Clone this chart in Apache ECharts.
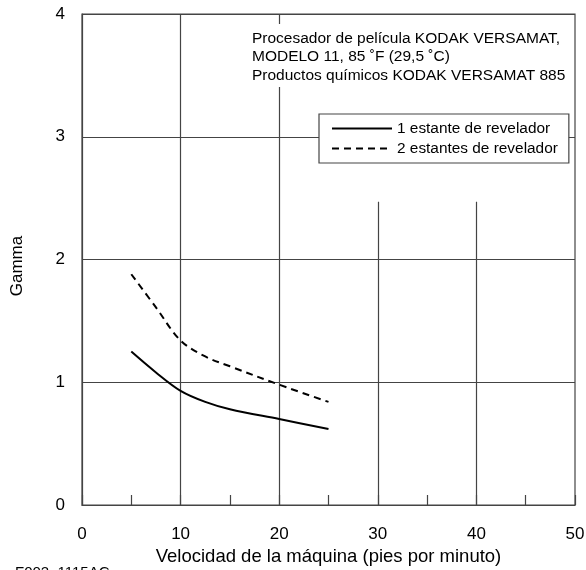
<!DOCTYPE html>
<html>
<head>
<meta charset="utf-8">
<script src="https://cdn.jsdelivr.net/npm/echarts@6/dist/echarts.min.js"></script>
<style>
html,body{margin:0;padding:0;background:#fff;}
#c{width:586px;height:570px;}
</style>
</head>
<body>
<div id="c"></div>
<script>
// Data
const speed1 = [5, 7.5, 10, 12.5, 15, 20, 25];
const gamma1 = [1.25, 1.08, 0.93, 0.84, 0.78, 0.70, 0.62];
const speed2 = [5, 7.5, 10, 12.5, 15, 20, 25];
const gamma2 = [1.88, 1.61, 1.34, 1.21, 1.13, 0.98, 0.84];
const seriesNames = ['1 estante de revelador', '2 estantes de revelador'];
const xTicks = [0, 10, 20, 30, 40, 50];
const yTicks = [0, 1, 2, 3, 4];
// vertical grid lines: x position and top value
const vGridX = [10, 20, 30, 40];
const vGridTop = [4, 4, 2.47, 2.47];
const noteLines = [
  'Procesador de película KODAK VERSAMAT,',
  'MODELO 11, 85 ˚F (29,5 ˚C)',
  'Productos químicos KODAK VERSAMAT 885'
];
const yName = 'Gamma';
const xName = 'Velocidad de la máquina (pies por minuto)';
const figId = 'F002_1115AC';

const FONT = '"Liberation Sans", Arial, Helvetica, sans-serif';
const chart = echarts.init(document.getElementById('c'), null, {renderer: 'canvas'});

const markData = vGridX.map((x, i) => [{coord: [x, 0]}, {coord: [x, vGridTop[i]]}]);

chart.setOption({
  animation: false,
  backgroundColor: '#fff',
  textStyle: {fontFamily: FONT},
  grid: {left: 82, right: 11, top: 14, bottom: 65, show: true, borderColor: '#444', borderWidth: 1.2,
    backgroundColor: 'transparent', containLabel: false, outerBoundsMode: 'none'},
  legend: {
    orient: 'vertical', left: 319, top: 114,
    padding: [7, 11, 7, 12], itemGap: 5, itemWidth: 60, itemHeight: 14,
    backgroundColor: '#fff', borderColor: '#444', borderWidth: 1.2,
    itemStyle: {opacity: 0},
    textStyle: {fontFamily: FONT, fontSize: 15.4, color: '#000'},
    data: seriesNames
  },
  xAxis: {
    type: 'value', min: 0, max: 50, interval: 5,
    name: xName, nameLocation: 'middle', nameGap: 37,
    nameTextStyle: {fontFamily: FONT, fontSize: 18.5, color: '#000'},
    axisLine: {show: true, lineStyle: {color: '#444', width: 1.2}},
    axisTick: {show: true, inside: true, length: 10, lineStyle: {color: '#444', width: 1.2}},
    axisLabel: {fontFamily: FONT, fontSize: 17, color: '#000', margin: 21,
      formatter: v => (xTicks.indexOf(v) >= 0 ? String(v) : '')},
    splitLine: {show: false}
  },
  yAxis: {
    type: 'value', min: 0, max: 4, interval: 1,
    axisLine: {show: true, lineStyle: {color: '#444', width: 1.2}},
    axisTick: {show: false},
    axisLabel: {fontFamily: FONT, fontSize: 17, color: '#000', margin: 17,
      formatter: v => (yTicks.indexOf(v) >= 0 ? String(v) : '')},
    splitLine: {show: true, lineStyle: {color: '#444', width: 1.2}}
  },
  graphic: [
    {type: 'rect', left: 248, top: 24, shape: {width: 326, height: 63}, style: {fill: '#fff'}, z: 50, silent: true},
    {type: 'text', left: 252, top: 29, z: 51,
      style: {text: noteLines.join('\n'), fontFamily: FONT, fontSize: 15.5, lineHeight: 18.5, fill: '#000'}},
    {type: 'text', x: 17, y: 266, rotation: Math.PI / 2, z: 51,
      style: {text: yName, fontFamily: FONT, fontSize: 17, fill: '#000', align: 'center', verticalAlign: 'middle'}},
    {type: 'text', left: 15, top: 565, z: 51,
      style: {text: figId, fontFamily: FONT, fontSize: 15, fill: '#000'}}
  ],
  series: [
    {
      name: seriesNames[0], type: 'line', smooth: 0.35, symbol: 'none', z: 5,
      data: speed1.map((x, i) => [x, gamma1[i]]),
      lineStyle: {color: '#000', width: 2, type: 'solid'},
      itemStyle: {color: '#000'},
      markLine: {
        silent: true, symbol: 'none', label: {show: false},
        lineStyle: {color: '#444', width: 1.2, type: 'solid'},
        data: markData
      }
    },
    {
      name: seriesNames[1], type: 'line', smooth: 0.35, symbol: 'none', z: 5,
      data: speed2.map((x, i) => [x, gamma2[i]]),
      lineStyle: {color: '#000', width: 2, type: [7, 5]},
      itemStyle: {color: '#000'}
    }
  ]
});
</script>
</body>
</html>
